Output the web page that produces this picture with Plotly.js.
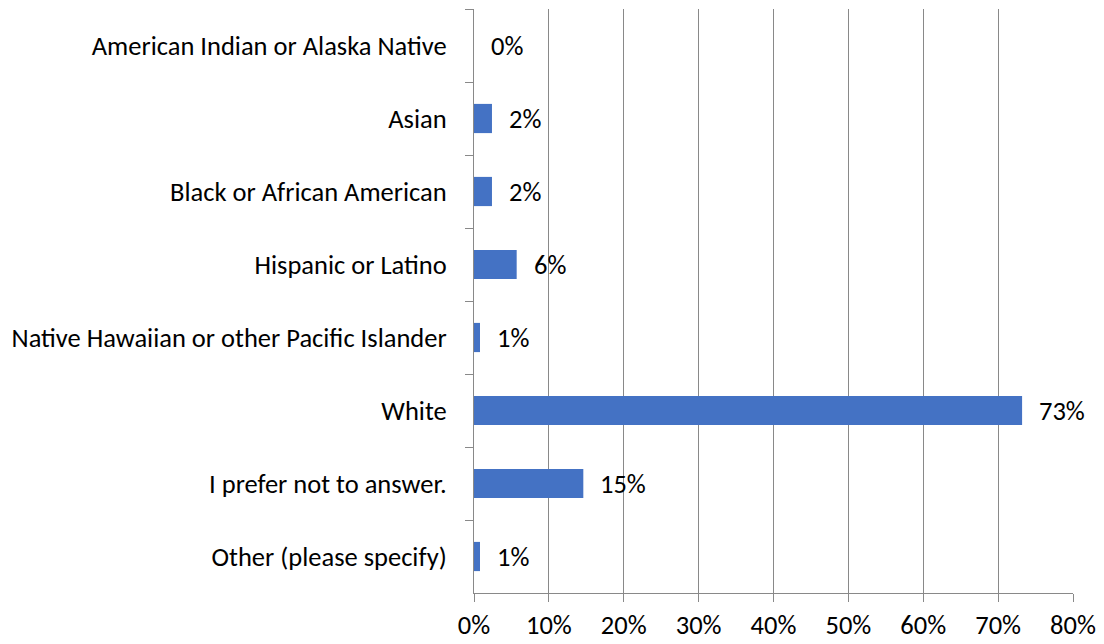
<!DOCTYPE html>
<html>
<head>
<meta charset="utf-8">
<script src="https://cdn.plot.ly/plotly-3.0.1.min.js"></script>
<style>html,body{margin:0;padding:0;background:#fff;}#chart{width:1104px;height:644px;}</style>
</head>
<body>
<div id="chart"></div>
<script>
var categories = [
  "American Indian or Alaska Native",
  "Asian",
  "Black or African American",
  "Hispanic or Latino",
  "Native Hawaiian or other Pacific Islander",
  "White",
  "I prefer not to answer.",
  "Other (please specify)"
];
var values = [0, 2.4, 2.4, 5.7, 0.8, 73.2, 14.6, 0.8];
var xTickVals = [0, 10, 20, 30, 40, 50, 60, 70, 80];
var xTickText = ["0%", "10%", "20%", "30%", "40%", "50%", "60%", "70%", "80%"];

var FONT = "Carlito, Calibri, Lato, sans-serif";
var FS = 26.5;
var FW = 300;
var gridColor = "#898989";

var trace = {
  type: "bar",
  orientation: "h",
  x: values,
  y: categories,
  marker: {color: "#4472C4"},
  hoverinfo: "x+y"
};

var annotations = values.map(function (v, i) {
  return {
    x: v, y: categories[i], xref: "x", yref: "y",
    text: Math.round(v) + "%",
    showarrow: false, xanchor: "left", yanchor: "middle",
    xshift: 15,
    font: {family: FONT, size: FS, weight: FW, color: "#000"}
  };
});

var layout = {
  width: 1104, height: 644,
  margin: {l: 474, r: 31, t: 9, b: 51},
  paper_bgcolor: "#fff", plot_bgcolor: "#fff",
  showlegend: false,
  bargap: 0.6,
  font: {family: FONT, size: FS, weight: FW, color: "#000"},
  xaxis: {
    range: [0, 80], tickvals: xTickVals, ticktext: xTickText,
    showgrid: true, gridcolor: gridColor, gridwidth: 1,
    showline: true, linecolor: gridColor, linewidth: 1,
    ticks: "outside", ticklen: 8, tickcolor: gridColor,
    zeroline: false, fixedrange: true,
    tickfont: {family: FONT, size: FS, weight: FW, color: "#000"}
  },
  yaxis: {
    type: "category", autorange: "reversed",
    showgrid: false, zeroline: false,
    showline: true, linecolor: gridColor, linewidth: 1,
    ticks: "outside", tickson: "boundaries", ticklen: 8, tickcolor: gridColor,
    ticklabelstandoff: 21,
    tickfont: {family: FONT, size: FS, weight: FW, color: "#000"},
    fixedrange: true
  },
  annotations: annotations
};

Plotly.newPlot("chart", [trace], layout, {displayModeBar: false, staticPlot: true});
</script>
</body>
</html>
